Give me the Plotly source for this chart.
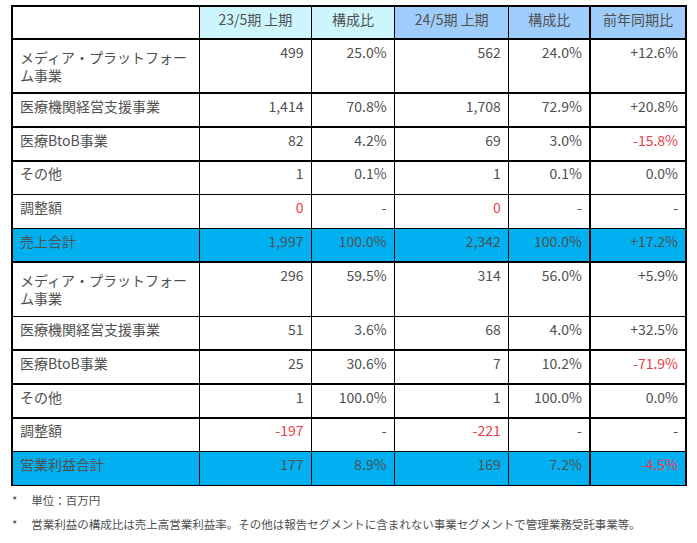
"""Segment sales / operating profit table (23/5期 vs 24/5期 上期)."""

import plotly.graph_objects as go

# Data
SEGMENTS = ["メディア・プラットフォー<br>ム事業", "医療機関経営支援事業", "医療BtoB事業", "その他", "調整額"]
SALES_TOTAL_LABEL = "売上合計"
PROFIT_TOTAL_LABEL = "営業利益合計"

sales_23 = [499, 1414, 82, 1, 0, 1997]
sales_share_23 = [25.0, 70.8, 4.2, 0.1, None, 100.0]
sales_24 = [562, 1708, 69, 1, 0, 2342]
sales_share_24 = [24.0, 72.9, 3.0, 0.1, None, 100.0]
sales_yoy = [12.6, 20.8, -15.8, 0.0, None, 17.2]

profit_23 = [296, 51, 25, 1, -197, 177]
profit_share_23 = [59.5, 3.6, 30.6, 100.0, None, 8.9]
profit_24 = [314, 68, 7, 1, -221, 169]
profit_share_24 = [56.0, 4.0, 10.2, 100.0, None, 7.2]
profit_yoy = [5.9, 32.5, -71.9, 0.0, None, -4.5]

HEADERS = ["", "23/5期 上期", "構成比", "24/5期 上期", "構成比", "前年同期比"]
NOTES = ["*\u3000\u2009単位：百万円",
         "*\u3000\u2009営業利益の構成比は売上高営業利益率。その他は報告セグメントに含まれない事業セグメントで管理業務受託事業等。"]

# Styles
FONT = "Noto Sans CJK JP, Noto Sans, sans-serif"
TEXT_COLOR = "#505050"
RED = "#e8414a"
TOTAL_FILL = "#00b0f0"
HEAD_FILL_23 = "#ccf6fc"
HEAD_FILL_24 = "#9fcdfb"
ADJUST_ROW = 4
TOTAL_ROW = 5


def fmt_num(v):
    return f"{v:,}"


def fmt_pct(v):
    return "-" if v is None else f"{v:.1f}%"


def fmt_yoy(v):
    if v is None:
        return "-"
    if v > 0:
        return f"+{v:.1f}%"
    return f"{v:.1f}%"


labels = SEGMENTS + [SALES_TOTAL_LABEL] + SEGMENTS + [PROFIT_TOTAL_LABEL]
cols = [
    labels,
    [fmt_num(v) for v in sales_23 + profit_23],
    [fmt_pct(v) for v in sales_share_23 + profit_share_23],
    [fmt_num(v) for v in sales_24 + profit_24],
    [fmt_pct(v) for v in sales_share_24 + profit_share_24],
    [fmt_yoy(v) for v in sales_yoy + profit_yoy],
]
n_rows = len(labels)
block = len(sales_23)

# Fill: total rows blue
row_fill = ["white" if i % block != TOTAL_ROW else TOTAL_FILL for i in range(n_rows)]
fills = [row_fill] * len(cols)

# Font colours: negatives / adjustments in red
num_vals = [None, sales_23 + profit_23, None, sales_24 + profit_24, None, sales_yoy + profit_yoy]
font_colors = []
for c, vals in enumerate(num_vals):
    colc = []
    for i in range(n_rows):
        red = False
        if vals is not None and vals[i] is not None:
            if c in (1, 3) and i % block == ADJUST_ROW:
                red = True
            elif vals[i] < 0:
                red = True
        colc.append(RED if red else TEXT_COLOR)
    font_colors.append(colc)

fig = go.Figure(go.Table(
    domain=dict(x=[12 / 697, 686 / 697], y=[0.0, 1 - 6 / 543]),
    columnwidth=[187, 112, 83, 114, 81, 96],
    header=dict(
        values=HEADERS,
        fill_color=["white", HEAD_FILL_23, HEAD_FILL_23, HEAD_FILL_24, HEAD_FILL_24, HEAD_FILL_24],
        line=dict(color="black", width=1.5),
        align="center",
        height=33,
        font=dict(family=FONT, size=14, color=TEXT_COLOR),
    ),
    cells=dict(
        values=cols,
        fill_color=fills,
        line=dict(color="black", width=1.5),
        align=["left", "right", "right", "right", "right", "right"],
        height=33.8,
        font=dict(family=FONT, size=14, color=font_colors),
    ),
))

for k, note in enumerate(NOTES):
    fig.add_annotation(
        text=note, xref="paper", yref="paper", x=10 / 697, y=1 - (500 + 24 * k) / 543,
        xanchor="left", yanchor="middle", showarrow=False,
        font=dict(family=FONT, size=11.5, color=TEXT_COLOR),
    )

fig.update_layout(
    width=697, height=543,
    margin=dict(l=0, r=0, t=0, b=0),
    paper_bgcolor="white",
)

# drop the default body margin so the figure sits at the window's corner
fig.write_html("out.html", config={"displayModeBar": False},
               post_script="document.body.style.margin='0';")
